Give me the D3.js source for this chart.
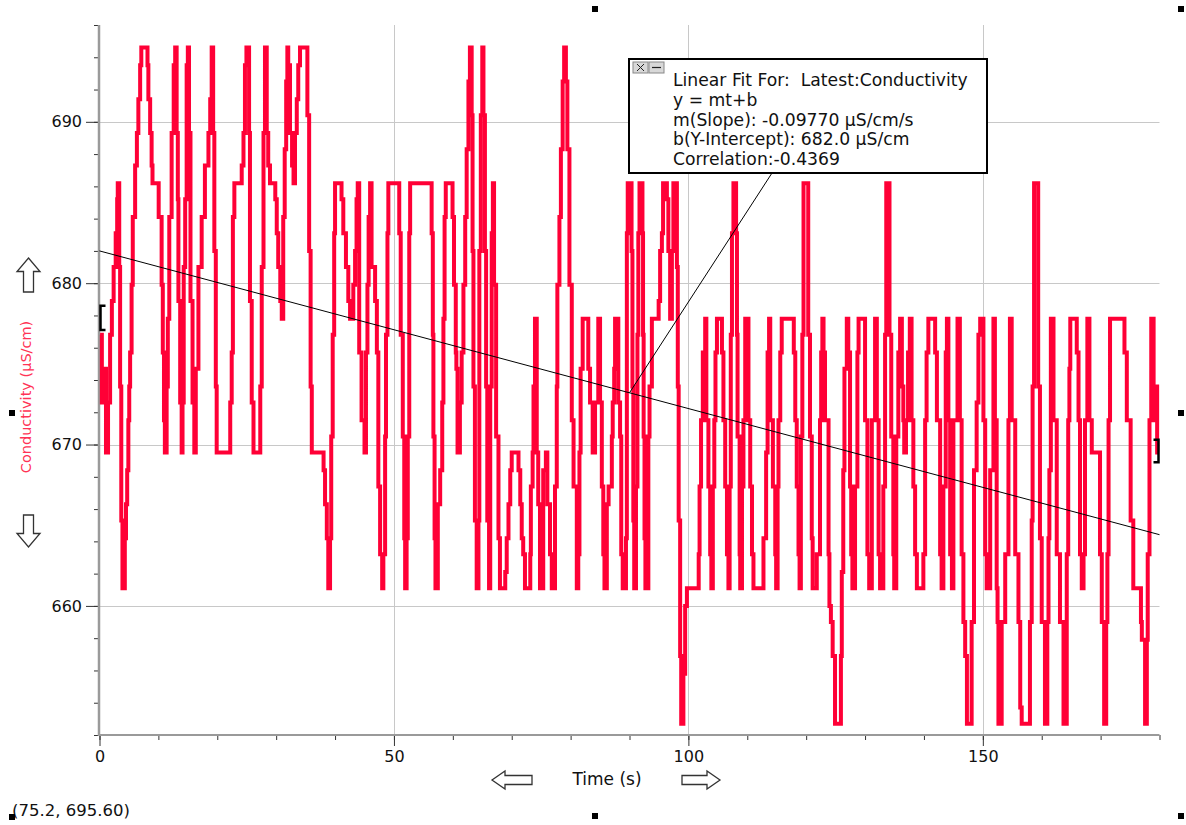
<!DOCTYPE html>
<html>
<head>
<meta charset="utf-8">
<script src="https://cdn.jsdelivr.net/npm/d3@7"></script>
<style>
  html, body { margin: 0; padding: 0; background: #fff; }
  svg { display: block; font-family: "DejaVu Sans", Verdana, sans-serif; }
</style>
</head>
<body>
<svg id="chart" width="1186" height="825"></svg>
<script>
// Conductivity run: time of each reading change (s) and the new reading (µS/cm)
const timeSec = [
  0.1,0.4,0.65,1.1,1.45,1.8,2.1,2.4,2.75,3.0,
  3.1,3.35,3.5,3.7,3.9,4.3,4.5,4.7,4.9,5.05,
  5.2,5.45,5.65,6.05,6.35,6.6,6.9,7.1,8.15,8.3,
  8.6,8.85,9.0,10.05,10.55,10.75,10.95,11.1,11.4,11.6,
  11.85,12.25,12.6,12.85,13.1,13.3,13.4,13.7,13.95,14.1,
  14.3,14.55,14.8,15.0,15.2,15.45,15.8,16.1,16.35,16.8,
  17.35,17.9,18.5,18.8,19.05,19.3,19.5,19.75,19.9,22.2,
  22.45,22.65,22.9,24.15,24.45,24.7,24.95,25.4,25.55,25.85,
  26.15,27.3,27.55,27.85,28.1,28.4,28.65,28.95,29.85,30.1,
  30.35,30.7,30.95,31.2,31.45,31.7,31.9,32.05,32.35,32.7,
  32.95,33.2,33.5,33.75,34.05,35.3,35.6,35.85,36.05,38.05,
  38.3,38.6,38.85,39.15,39.35,39.6,39.85,40.0,41.1,41.4,
  41.85,42.25,42.55,43.1,43.4,43.65,43.85,44.1,44.5,45.0,
  45.25,45.5,45.7,45.95,46.2,46.8,47.1,47.35,47.65,48.0,
  48.2,48.5,48.65,48.9,49.05,50.9,51.15,51.5,51.75,51.9,
  52.15,52.35,52.6,52.75,56.4,56.6,56.7,56.9,57.05,57.45,
  57.85,58.2,58.4,58.6,58.8,59.95,60.2,60.5,60.6,60.8,
  61.2,61.5,61.8,62.1,62.35,62.65,62.9,63.2,63.35,63.5,
  63.75,64.05,64.35,64.5,64.75,65.0,65.2,65.45,65.65,65.85,
  66.15,66.35,66.6,66.8,67.0,67.35,67.75,68.0,68.9,69.15,
  69.45,69.75,70.0,71.15,71.45,71.7,71.95,72.25,73.15,73.25,
  73.55,73.7,73.95,74.25,74.5,74.8,75.35,75.8,76.05,76.5,
  76.8,77.35,77.65,77.75,78.1,78.35,78.65,78.9,79.2,79.45,
  79.8,80.2,80.5,81.05,81.3,81.5,81.7,82.05,83.0,83.3,
  83.75,84.15,84.7,85.0,85.3,85.55,85.75,86.15,86.45,87.0,
  87.15,87.4,87.55,88.1,88.4,88.6,88.85,89.4,89.55,89.7,
  90.35,90.5,90.65,90.8,91.1,91.35,91.5,91.7,92.2,92.3,
  92.4,92.55,92.7,93.2,93.4,93.8,94.95,95.2,95.5,95.7,
  96.35,96.6,96.9,97.2,97.45,98.05,98.2,98.35,98.6,98.78,
  99.15,99.45,99.75,101.75,101.9,102.15,102.45,102.85,103.05,103.4,
  103.7,103.9,104.15,104.4,104.6,104.85,105.7,105.95,106.25,106.55,
  106.8,107.0,107.2,107.4,107.65,108.1,108.25,108.35,108.7,108.8,
  109.1,109.35,109.65,110.2,110.5,110.8,111.05,112.75,113.2,113.45,
  113.7,113.9,114.35,114.75,114.9,115.15,115.3,115.6,115.85,117.9,
  118.15,118.4,118.7,118.88,119.1,119.35,119.55,120.35,120.65,120.95,
  121.1,121.8,122.35,122.55,122.75,122.95,123.2,123.8,123.95,124.2,
  124.5,124.9,125.9,126.05,126.3,126.5,126.9,127.15,127.45,127.65,
  127.85,128.3,128.7,128.9,130.0,130.4,130.7,131.15,131.7,132.0,
  132.3,132.55,133.1,133.4,133.6,134.15,134.45,134.8,134.95,135.3,
  135.65,135.95,136.25,136.5,136.65,136.95,137.3,137.6,137.9,138.2,
  138.5,138.8,139.9,140.2,140.45,140.75,141.9,142.2,142.75,143.0,
  143.3,143.7,143.9,144.15,144.45,144.75,145.0,145.7,146.1,146.4,
  146.7,147.0,147.3,148.1,148.5,148.95,149.25,149.55,150.1,150.4,
  150.65,151.25,151.8,152.05,152.35,152.5,152.65,153.2,153.8,154.35,
  154.6,154.9,155.5,156.05,156.35,156.6,158.0,158.3,158.45,158.7,
  159.4,159.7,160.0,160.55,160.95,161.15,161.3,161.55,162.0,162.55,
  163.1,163.7,164.25,164.5,164.7,164.85,165.95,166.25,166.5,166.8,
  167.1,167.35,167.75,168.1,168.5,169.9,170.2,170.6,170.95,171.15,
  171.35,171.6,174.05,174.45,175.1,175.55,176.85,177.0,177.55,177.85,
  178.0,178.3,178.6,179.0,179.3,179.6,179.8
];
const conductivity = [
  676.8,672.6,674.7,669.5,672.6,676.8,678.9,681.0,683.1,685.2,
  686.2,681.0,673.6,665.3,661.1,664.2,666.3,668.4,671.5,673.6,
  675.7,679.9,684.1,687.3,689.3,691.4,693.5,694.6,693.5,691.4,
  689.3,687.3,686.2,684.1,679.9,675.7,671.5,669.5,673.6,677.8,
  684.1,689.3,693.5,694.6,689.3,685.2,678.9,672.6,669.5,672.6,
  681.0,685.2,693.5,694.6,689.3,678.9,672.6,669.5,674.7,681.0,
  684.1,687.3,689.3,691.4,694.6,689.3,682.0,673.6,669.5,672.6,
  675.7,684.1,686.2,687.3,689.3,693.5,694.6,689.3,678.9,672.6,
  669.5,673.6,681.0,689.3,694.6,689.3,687.3,686.2,685.2,683.1,
  681.0,678.9,677.8,684.1,688.3,692.5,694.6,693.5,689.3,687.3,
  686.2,689.3,691.4,693.5,694.6,690.4,682.0,673.6,669.5,668.4,
  666.3,664.2,661.1,664.2,670.5,676.8,683.1,686.2,685.2,683.1,
  681.0,678.9,677.8,679.9,682.0,685.2,686.2,675.7,671.5,669.5,
  675.7,679.9,684.1,686.2,681.0,678.9,675.7,667.4,663.2,661.1,
  663.2,670.5,676.8,683.1,686.2,683.1,676.8,670.5,664.2,661.1,
  664.2,670.5,683.1,686.2,683.1,676.8,670.5,664.2,661.1,666.3,
  668.4,672.6,677.8,684.1,686.2,684.1,679.9,675.7,674.7,669.5,
  672.6,675.7,679.9,684.1,688.3,692.5,694.6,690.4,682.0,673.6,
  665.3,661.1,665.3,682.0,690.4,694.6,690.4,682.0,673.6,665.3,
  661.1,673.6,683.1,686.2,679.9,670.5,664.2,661.1,662.1,664.2,
  666.3,668.4,669.5,668.4,666.3,664.2,663.2,661.1,663.2,667.4,
  669.5,673.6,677.8,669.5,666.3,661.1,668.4,669.5,666.3,663.2,
  661.1,667.4,673.6,679.9,684.1,688.3,692.5,694.6,692.5,688.3,
  679.9,671.5,667.4,661.1,663.2,669.5,674.7,677.8,674.7,672.6,
  669.5,672.6,677.8,672.6,667.4,663.2,661.1,666.3,667.4,670.5,
  672.6,674.7,677.8,672.6,670.5,663.2,661.1,664.2,683.1,686.2,
  682.0,673.6,665.3,661.1,667.4,676.8,683.1,686.2,683.1,676.8,
  670.5,664.2,661.1,670.5,673.6,677.8,678.9,682.0,683.1,686.2,
  685.2,682.0,677.8,682.0,686.2,681.0,673.6,665.3,656.9,652.7,
  655.8,660.0,661.1,663.2,667.4,671.5,675.7,677.8,671.5,667.4,
  663.2,661.1,667.4,671.5,675.7,677.8,675.7,671.5,667.4,663.2,
  661.1,667.4,676.8,683.1,686.2,683.1,676.8,670.5,663.2,661.1,
  667.4,671.5,677.8,671.5,667.4,663.2,661.1,664.2,669.5,675.7,
  677.8,671.5,667.4,663.2,661.1,667.4,671.5,675.7,677.8,675.7,
  671.5,667.4,663.2,661.1,670.5,676.8,686.2,676.8,670.5,664.2,
  661.1,663.2,671.5,675.7,677.8,675.7,671.5,663.2,660.0,659.0,
  656.9,652.7,656.9,662.1,668.4,674.7,677.8,675.7,667.4,663.2,
  661.1,667.4,675.7,677.8,671.5,663.2,661.1,671.5,677.8,671.5,
  663.2,661.1,667.4,676.8,686.2,676.8,670.5,663.2,661.1,670.5,
  675.7,677.8,673.6,671.5,669.5,671.5,675.7,677.8,671.5,667.4,
  663.2,661.1,663.2,671.5,675.7,677.8,675.7,671.5,663.2,661.1,
  667.4,675.7,677.8,671.5,663.2,661.1,671.5,677.8,671.5,663.2,
  659.0,656.9,652.7,659.0,668.4,672.6,676.8,677.8,671.5,663.2,
  661.1,668.4,677.8,671.5,661.1,659.0,652.7,659.0,663.2,671.5,
  677.8,671.5,663.2,659.0,653.7,652.7,659.0,665.3,673.6,686.2,
  673.6,664.2,659.0,652.7,659.0,664.2,668.4,677.8,671.5,663.2,
  659.0,652.7,663.2,671.5,674.7,677.8,675.7,671.5,663.2,661.1,
  663.2,671.5,677.8,671.5,669.5,663.2,659.0,652.7,659.0,663.2,
  671.5,677.8,675.7,671.5,665.3,661.1,659.0,657.9,652.7,657.9,
  663.2,671.5,677.8,671.5,673.6,669.5,669.5
];

// Axis ticks and grid
const xLabelTicks = [0, 50, 100, 150];
const xMinorTicks = [0,10,20,30,40,50,60,70,80,90,100,110,120,130,140,150,160,170,180];
const yLabelTicks = [660, 670, 680, 690];
const yMinorTicks = [652,654,656,658,660,662,664,666,668,670,672,674,676,678,680,682,684,686,688,690,692,694,696];
const xGrid = [50, 100, 150];
const yGrid = [660, 670, 680, 690];

// Linear fit results shown in the floating box
const fitSlope = -0.09770;
const fitIntercept = 682.0;
const fitCorrelation = -0.4369;
const fitText = [
  "Linear Fit For:  Latest:Conductivity",
  "y = mt+b",
  "m(Slope): " + fitSlope.toFixed(5) + " μS/cm/s",
  "b(Y-Intercept): " + fitIntercept.toFixed(1) + " μS/cm",
  "Correlation:" + fitCorrelation.toFixed(4)
];
const fitAnchorTime = 90;

// Examine brackets at the ends of the selected range: [time, low, high]
const examineBrackets = [[0, 677.1, 678.6, "left"], [180, 668.9, 670.3, "right"]];
const cursorReadout = "(75.2, 695.60)";

const W = 1186, H = 825;
const svg = d3.select("#chart");
svg.append("rect").attr("width", W).attr("height", H).attr("fill", "#fff");

const x = d3.scaleLinear().domain([0, 180]).range([99.5, 1159.5]);
const y = d3.scaleLinear().domain([652, 696]).range([735, 25]);
const crisp = v => Math.round(v) + 0.5;

// grid lines
const grid = svg.append("g").attr("stroke", "#c8c8c8").attr("stroke-width", 1);
grid.selectAll("line.v").data(xGrid).join("line").attr("class", "v")
  .attr("x1", d => crisp(x(d))).attr("x2", d => crisp(x(d)))
  .attr("y1", y(696)).attr("y2", y(652));
grid.selectAll("line.h").data(yGrid).join("line").attr("class", "h")
  .attr("x1", x(0)).attr("x2", x(180))
  .attr("y1", d => crisp(y(d))).attr("y2", d => crisp(y(d)));

// axes
const fontFamily = '"DejaVu Sans", Verdana, sans-serif';
function styleAxis(g) {
  g.select(".domain").remove();
  g.selectAll(".tick line").attr("stroke", "#333");
  g.selectAll(".tick text").attr("fill", "#111").attr("font-size", 16).attr("font-family", fontFamily);
}
svg.append("g").attr("transform", "translate(0,735)")
  .call(d3.axisBottom(x).tickValues(xMinorTicks).tickSize(5).tickFormat(""))
  .call(styleAxis);
svg.append("g").attr("transform", "translate(0,735)")
  .call(d3.axisBottom(x).tickValues(xLabelTicks).tickSize(11).tickPadding(5).tickFormat(d3.format("d")))
  .call(styleAxis);
svg.append("g").attr("transform", "translate(99,0)")
  .call(d3.axisLeft(y).tickValues(yMinorTicks).tickSize(5).tickFormat(""))
  .call(styleAxis);
svg.append("g").attr("transform", "translate(99,0)")
  .call(d3.axisLeft(y).tickValues(yLabelTicks).tickSize(13).tickPadding(4).tickFormat(d3.format("d")))
  .call(styleAxis);

// axis lines
svg.append("line").attr("x1", 99).attr("x2", 99).attr("y1", y(696)).attr("y2", 736)
  .attr("stroke", "#9a9a9a").attr("stroke-width", 2.5);
svg.append("line").attr("x1", 98).attr("x2", x(180)).attr("y1", 735).attr("y2", 735)
  .attr("stroke", "#9a9a9a").attr("stroke-width", 2);

// conductivity trace
const idx = d3.range(timeSec.length);
const trace = d3.line()
  .x(i => x(timeSec[i]))
  .y(i => y(conductivity[i]))
  .curve(d3.curveStepAfter);
svg.append("path").attr("d", trace(idx))
  .attr("fill", "none").attr("stroke", "#ff0036").attr("stroke-width", 4)
  .attr("stroke-linejoin", "miter").attr("stroke-linecap", "butt");

// linear fit line
const fitLine = d3.line().x(t => x(t)).y(t => y(fitSlope * t + fitIntercept));
svg.append("path").attr("d", fitLine([0, 180]))
  .attr("fill", "none").attr("stroke", "#000").attr("stroke-width", 1);

// examine brackets
examineBrackets.forEach(([t, lo, hi, side]) => {
  const bx = x(t), y0 = y(hi), y1 = y(lo);
  const p = side === "left"
    ? `M${bx + 6},${y0} H${bx + 1} V${y1} H${bx + 6}`
    : `M${bx - 6},${y0} H${bx - 1} V${y1} H${bx - 6}`;
  svg.append("path").attr("d", p).attr("fill", "none").attr("stroke", "#000").attr("stroke-width", 2.5);
});

// fit box with leader line
const box = { x: 629, y: 59, w: 358, h: 114 };
svg.append("line")
  .attr("x1", 772).attr("y1", box.y + box.h)
  .attr("x2", x(fitAnchorTime)).attr("y2", y(fitSlope * fitAnchorTime + fitIntercept))
  .attr("stroke", "#000").attr("stroke-width", 1);
svg.append("rect").attr("x", box.x).attr("y", box.y).attr("width", box.w).attr("height", box.h)
  .attr("fill", "#fff").attr("stroke", "#000").attr("stroke-width", 2);
const btn = svg.append("g");
btn.append("rect").attr("x", 633).attr("y", 62).attr("width", 15).attr("height", 11)
  .attr("fill", "#d8d8d8").attr("stroke", "#888").attr("stroke-width", 1);
btn.append("rect").attr("x", 649).attr("y", 62).attr("width", 15).attr("height", 11)
  .attr("fill", "#d8d8d8").attr("stroke", "#888").attr("stroke-width", 1);
btn.append("path").attr("d", "M637,64 L644,71 M644,64 L637,71").attr("stroke", "#222").attr("stroke-width", 1);
btn.append("path").attr("d", "M652,67.5 H661").attr("stroke", "#222").attr("stroke-width", 1.2);
svg.append("g").selectAll("text").data(fitText).join("text")
  .attr("x", 673).attr("y", (d, i) => 86 + i * 19.75)
  .attr("font-size", 17.2).attr("fill", "#111").style("white-space", "pre")
  .text(d => d);

// axis titles
svg.append("text").attr("x", 607).attr("y", 785).attr("text-anchor", "middle")
  .attr("font-size", 17).attr("fill", "#111").text("Time (s)");
svg.append("text").attr("transform", "translate(31,397) rotate(-90)")
  .attr("text-anchor", "middle").attr("font-size", 14.5).attr("fill", "#ff3355")
  .text("Conductivity (μS/cm)");

// scroll arrows
const arrows = [
  "M28.5,258 L40,271.5 L33.5,271.5 L33.5,292 L23.5,292 L23.5,271.5 L17,271.5 Z",
  "M23.5,515 H33.5 V533.5 H40 L28.5,547 L17,533.5 H23.5 Z",
  "M492,780 L505,771 V775.5 H532 V784.5 H505 V789 Z",
  "M720,780 L707,771 V775.5 H682 V784.5 H707 V789 Z"
];
svg.append("g").selectAll("path").data(arrows).join("path")
  .attr("d", d => d).attr("fill", "#fff").attr("stroke", "#333").attr("stroke-width", 1.3)
  .attr("stroke-linejoin", "miter");

// cursor readout
svg.append("text").attr("x", 12).attr("y", 816).attr("font-size", 16.5).attr("fill", "#111")
  .text(cursorReadout);

// selection handles
const handles = [[592, 6], [1178, 6], [9, 410], [1178, 410], [592, 813], [1178, 813], [9, 814]];
svg.append("g").selectAll("rect").data(handles).join("rect")
  .attr("x", d => d[0]).attr("y", d => d[1]).attr("width", 6).attr("height", 6).attr("fill", "#000");
</script>
</body>
</html>
